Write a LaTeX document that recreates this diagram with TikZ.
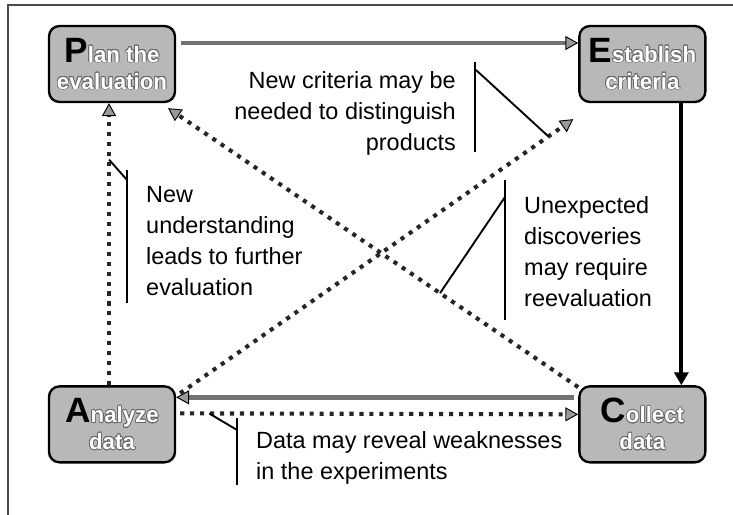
\documentclass[tikz,border=0pt]{standalone}
\usepackage{fontspec}
\setmainfont{Liberation Sans}
\usepackage{contour}
\usetikzlibrary{positioning, arrows.meta}
\contourlength{0.6pt}
\newcommand{\bigletter}[1]{{\fontsize{30}{30}\selectfont\bfseries #1}}
\newcommand{\faded}[1]{{\color{white}\contour{black!60}{#1}}}
\tikzset{
  stage/.style={rectangle, rounded corners=9pt, minimum width=3.78cm, minimum height=2.28cm, draw=black, line width=2pt, fill=black!28, align=center, inner sep=2pt, font=\fontsize{19}{23}\selectfont\bfseries},
  note/.style={inner sep=0pt, font=\fontsize{20}{26.5}\selectfont},
  grayflow/.style={line width=4pt, black!55, -{Triangle[length=11pt,width=12pt,line width=0.8pt,color=black,fill=black!40]}},
  blackflow/.style={line width=3.4pt, black, -{Triangle[length=11pt,width=12pt]}},
  loopflow/.style={line width=3.5pt, black!85, dash pattern=on 3.5pt off 5pt, -{Triangle[length=11pt,width=12pt,line width=0.8pt,color=black,fill=black!40]}},
  callout/.style={line width=1.6pt, black},
  frame/.style={line width=1.2pt, black!70}
}
\begin{document}
\begin{tikzpicture}[x=0.03cm, y=-0.03cm]
  \useasboundingbox (0,0) rectangle (733,515);
  % marco
  \draw[frame] (8,515) -- (8,5) -- (733,5);

  % Etapas del ciclo
  \node (plan) [stage] at (112,64) {\bigletter{P}\faded{lan the}\\\faded{evaluation}};
  \node (est) [stage, right=12.06cm of plan] {\bigletter{E}\faded{stablish}\\\faded{criteria}};
  \node (ana) [stage, below=8.46cm of plan] {\bigletter{A}\faded{nalyze}\\\faded{data}};
  \node (col) [stage, right=12.06cm of ana] {\bigletter{C}\faded{ollect}\\\faded{data}};

  % Notas
  \node (crit) [note, anchor=east, align=right] at (456,113) {New criteria may be\\needed to distinguish\\products};
  \node (und) [note, anchor=west, align=left] at (146,241) {New\\understanding\\leads to further\\evaluation};
  \node (unexp) [note, anchor=west, align=left] at (524,252) {Unexpected\\discoveries\\may require\\reevaluation};
  \node (weak) [note, anchor=west, align=left] at (256,458) {Data may reveal weaknesses\\in the experiments};

  % Flujo principal
  \draw [grayflow] ([shift={(5,-21)}]plan.east) -- ([shift={(0,-21)}]est.west);
  \draw [blackflow] ([shift={(39,0)}]est.south) -- ([shift={(39,0)}]col.north);
  \draw [grayflow] ([shift={(-4,-27)}]col.west) -- ([shift={(0,-27)}]ana.east);

  % Retornos
  \draw [loopflow] ([shift={(4,-11)}]ana.east) -- coordinate[pos=0.073] (weakpt) ([shift={(0,-10)}]col.west);
  \draw [loopflow] ([shift={(-3,0)}]ana.north) -- coordinate[pos=0.8] (undpt) ([shift={(-3,0)}]plan.south);
  \draw [loopflow] ([shift={(4,8)}]ana.north east) -- coordinate[pos=0.937] (critpt) ([shift={(-5,16)}]est.south west);
  \draw [loopflow] ([shift={(0,2)}]col.north west) -- coordinate[pos=0.337] (unexpt) ([shift={(-8,5)}]plan.south east);

  % Llamadas
  \coordinate (critTop) at (475,62);
  \coordinate (critBot) at (475,152);
  \coordinate (critJoin) at (476,70);
  \draw [callout] (critTop) -- (critBot);
  \draw [callout] (critJoin) -- (critpt);

  \coordinate (undTop) at (127,170);
  \coordinate (undBot) at (127,303);
  \coordinate (undJoin) at (127,180);
  \draw [callout] (undTop) -- (undBot);
  \draw [callout] (undJoin) -- (undpt);

  \coordinate (unexpTop) at (505,180);
  \coordinate (unexpBot) at (505,320);
  \coordinate (unexpJoin) at (505,197);
  \draw [callout] (unexpTop) -- (unexpBot);
  \draw [callout] (unexpJoin) -- (unexpt);

  \coordinate (weakTop) at (237,418);
  \coordinate (weakBot) at (237,485);
  \coordinate (weakJoin) at (237,430);
  \draw [callout] (weakTop) -- (weakBot);
  \draw [callout] (weakJoin) -- (weakpt);
\end{tikzpicture}
\end{document}
